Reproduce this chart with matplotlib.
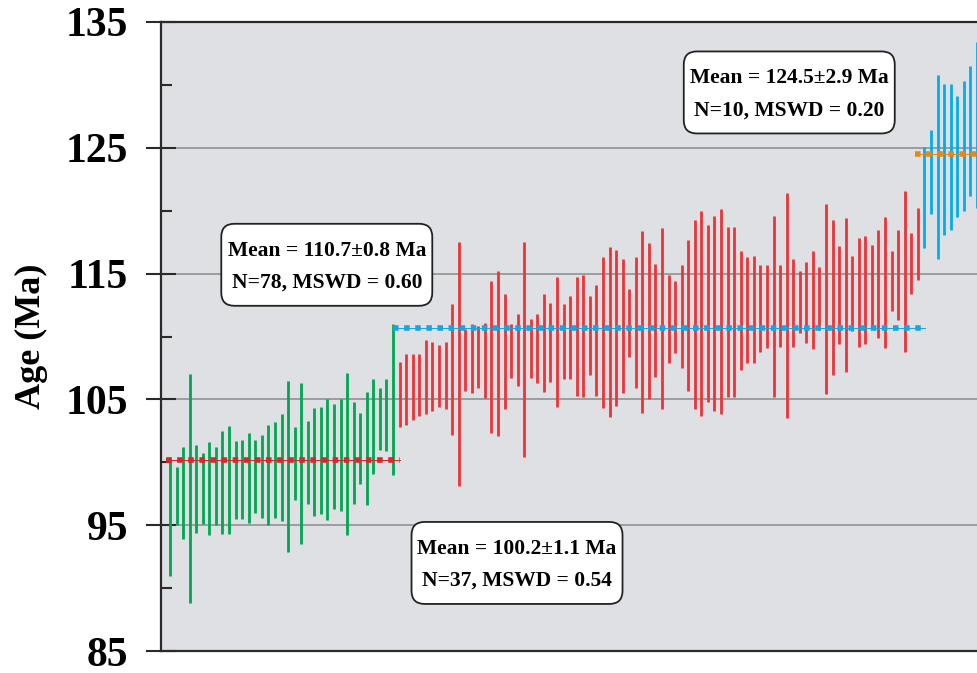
import matplotlib.pyplot as plt
from matplotlib.patches import FancyBboxPatch
import numpy as np

# zircon U-Pb spot ages: upper / lower end of each error bar (Ma)
green_hi = [100.4, 99.6, 101.2, 107.0, 101.4, 100.7, 101.6, 101.2, 102.5, 102.9,
            101.7, 101.8, 102.3, 101.8, 102.2, 103.0, 103.2, 103.8, 106.5, 102.8,
            106.3, 103.3, 104.3, 104.4, 105.0, 104.6, 105.0, 107.1, 104.8, 103.9,
            105.6, 106.6, 105.9, 106.6, 111.0]
green_lo = [91.0, 95.0, 93.9, 88.8, 94.4, 95.1, 94.2, 95.0, 94.3, 94.3,
            95.5, 95.5, 95.2, 96.0, 95.6, 95.0, 95.6, 95.3, 92.9, 97.0,
            93.5, 96.7, 95.7, 95.9, 95.4, 96.3, 96.1, 94.2, 96.7, 98.3,
            96.6, 99.1, 101.0, 100.9, 99.0]

red_hi = [108.0, 108.6, 108.6, 108.6, 109.7, 109.6, 109.3, 109.6, 112.6, 117.5,
          110.6, 111.0, 110.8, 111.1, 114.4, 115.2, 113.4, 111.0, 111.8, 117.5,
          111.4, 111.8, 113.4, 112.7, 114.7, 112.6, 113.2, 114.7, 114.9, 113.2,
          114.1, 116.3, 117.1, 116.9, 116.2, 113.8, 116.3, 118.4, 117.4, 115.8,
          118.6, 114.9, 114.4, 115.7, 117.7, 119.3, 120.0, 118.9, 119.6, 120.1,
          118.7, 118.7, 116.8, 116.3, 116.4, 115.7, 115.7, 119.6, 115.7, 121.4,
          116.2, 115.2, 115.9, 116.8, 115.5, 120.5, 119.3, 117.2, 119.4, 116.4,
          117.8, 118.0, 117.3, 118.5, 119.5, 116.8, 118.5, 121.6, 118.2, 120.2]
red_lo = [102.8, 103.0, 103.4, 103.7, 103.8, 104.1, 104.4, 104.2, 102.2, 98.1,
          105.7, 105.5, 105.9, 105.1, 102.3, 102.1, 104.2, 106.7, 106.1, 100.4,
          106.7, 106.3, 105.6, 106.4, 104.4, 106.6, 106.6, 105.3, 105.2, 106.9,
          105.3, 104.3, 103.6, 104.5, 105.5, 108.4, 105.9, 103.9, 105.0, 106.8,
          104.2, 107.9, 108.7, 107.5, 105.7, 104.2, 103.7, 104.8, 104.1, 103.8,
          105.2, 105.2, 107.3, 107.9, 107.9, 108.8, 109.1, 105.2, 109.2, 103.5,
          109.2, 110.3, 109.5, 109.0, 110.5, 105.4, 106.9, 109.4, 107.2, 110.4,
          109.2, 109.4, 110.6, 109.9, 109.1, 112.0, 111.3, 108.8, 113.4, 114.5]

blue_hi = [125.1, 126.4, 130.8, 130.1, 130.1, 129.1, 130.3, 131.5, 133.4]
blue_lo = [117.0, 119.7, 116.2, 118.1, 118.5, 119.5, 120.0, 121.2, 120.2]

mean_ages = [100.2, 110.7, 124.5]
mean_texts = ["Mean = 100.2\u00b11.1 Ma\nN=37, MSWD = 0.54",
              "Mean = 110.7\u00b10.8 Ma\nN=78, MSWD = 0.60",
              "Mean = 124.5\u00b12.9 Ma\nN=10, MSWD = 0.20"]

y_ticks = [85, 95, 105, 115, 125, 135]
y_minor = [90, 100, 110, 120, 130]

plt.rcParams['font.family'] = ['Liberation Serif', 'DejaVu Serif']
plt.rcParams['font.weight'] = 'bold'

fig = plt.figure(figsize=(9.78, 6.73), dpi=100)
ax = fig.add_axes([161 / 978, 22 / 673, 840 / 978, 629 / 673])
ax.set_facecolor('#dfe0e4')

px_per_x = 6.56            # pixels per analysis slot
px_per_ma = 629 / 50.0     # pixels per Ma

n_g, n_r, n_b = len(green_hi), len(red_hi), len(blue_hi)
x_g = np.arange(1, n_g + 1)
x_r = np.arange(n_g + 1, n_g + n_r + 1)
x_b = np.arange(n_g + n_r + 1, n_g + n_r + n_b + 1)

ax.vlines(x_g, green_lo, green_hi, color='#00a651', lw=2.0, zorder=3)
ax.vlines(x_r, red_lo, red_hi, color='#ee3338', lw=2.0, zorder=3)
ax.vlines(x_b, blue_lo, blue_hi, color='#00aeef', lw=2.0, zorder=3)

# weighted mean lines
spans = [(0.4, 36.1), (35.0, 116.1), (114.6, 135.0)]
line_cols = ['#d9262c', '#1ba3e0', '#e08a1e']
for (x0, x1), age, c in zip(spans, mean_ages, line_cols):
    ax.plot([x0, x1], [age, age], color=c, lw=0.7, zorder=4)
    ax.plot([x0, x1], [age, age], color=c, lw=4.0, ls=(0, (1, 1)), zorder=4)

# labels for the three age groups, in rounded boxes
box_pos = [(53.9, 92.0), (24.9, 115.7), (95.4, 129.4)]
box_w = 211 / px_per_x
box_h = 82 / px_per_ma
for (bx, by), txt in zip(box_pos, mean_texts):
    box = FancyBboxPatch((bx - box_w / 2, by - box_h / 2), box_w, box_h,
                         boxstyle='round,pad=0,rounding_size=2.0',
                         mutation_aspect=px_per_x / px_per_ma,
                         fc='white', ec='#222222', lw=1.3, zorder=5)
    ax.add_patch(box)
    ax.text(bx, by - 0.15, txt, ha='center', va='center', fontsize=15.5,
            linespacing=1.8, zorder=6)

ax.set_xlim(1 - 9 / px_per_x, 1 - 9 / px_per_x + 840 / px_per_x)
ax.set_ylim(85, 135)
ax.set_xticks([])
ax.set_yticks(y_ticks)
ax.set_yticks(y_minor, minor=True)
ax.yaxis.grid(True, which='major', color='#8a8a8a', lw=1.1, zorder=1)
ax.set_axisbelow(True)

ax.tick_params(axis='y', which='major', direction='inout', length=21,
               width=1.5, pad=13, labelsize=30, color='#2a2a2a')
ax.tick_params(axis='y', which='minor', direction='in', length=8,
               width=1.5, color='#2a2a2a')
for lbl in ax.get_yticklabels():
    lbl.set_fontweight('bold')

for side in ['left', 'top', 'bottom']:
    ax.spines[side].set_color('#2a2a2a')
    ax.spines[side].set_linewidth(1.6)
ax.spines['right'].set_visible(False)

fig.text(31 / 978, 0.5, 'Age (Ma)', rotation=90, ha='center', va='center',
         fontsize=26, fontweight='bold')

plt.savefig('out.png', dpi=100)
